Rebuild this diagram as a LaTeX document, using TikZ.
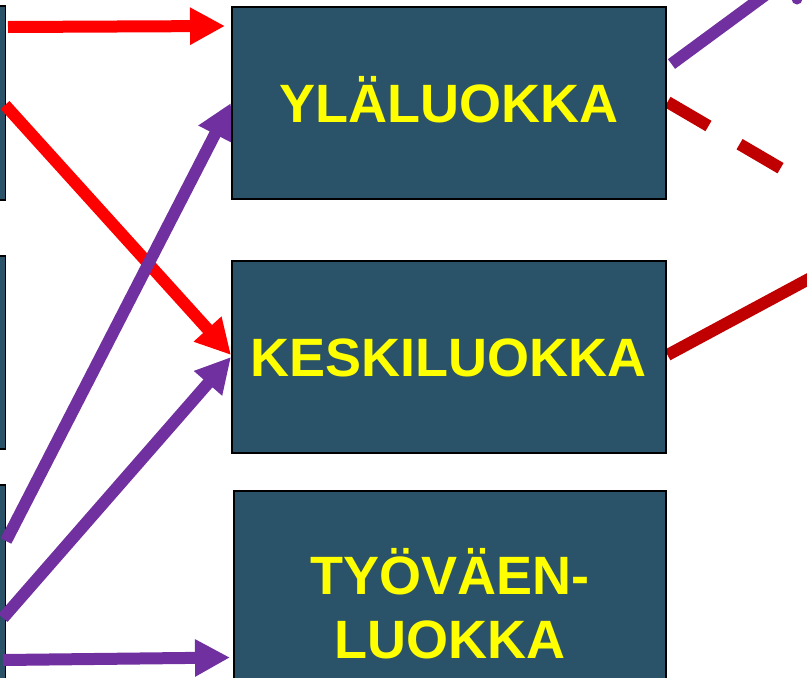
\documentclass[tikz,border=0pt]{standalone}
\usepackage{fontspec}
\setmainfont{Liberation Sans}
\usetikzlibrary{arrows.meta,calc}
\definecolor{boxfill}{RGB}{42,82,104}
\definecolor{lyellow}{RGB}{255,255,0}
\definecolor{pur}{RGB}{112,48,160}
\definecolor{dred}{RGB}{192,0,0}
\pgfdeclarelayer{back}
\pgfdeclarelayer{front}
\pgfsetlayers{back,main,front}
\tikzset{
  cbox/.style={draw=black, line width=1.5pt, fill=boxfill, inner sep=0pt, rectangle},
  lbl/.style={text=lyellow, font=\fontsize{54}{64}\selectfont\bfseries, inner sep=0pt},
  conn/.style={line width=12pt},
  tipped/.style={-{Triangle[length=35pt,width=35pt]}},
}
\begin{document}
\begin{tikzpicture}[x=1pt,y=-1pt]
\useasboundingbox (0,0) rectangle (807,678);
\clip (0,0) rectangle (807,678);
% left boxes (cut by the page edge)
\begin{pgfonlayer}{back}
\node[cbox, anchor=north east, minimum width=80pt, minimum height=194pt] (L1) at (6,5) {};
\node[cbox, anchor=north east, minimum width=80pt, minimum height=193pt] (L2) at (6,255) {};
\node[cbox, anchor=north east, minimum width=80pt, minimum height=240pt] (L3) at (6,484) {};
\end{pgfonlayer}
% middle boxes
\begin{pgfonlayer}{front}
\node[cbox, lbl, text height=38.5pt, text depth=0pt, minimum width=434pt, minimum height=192pt, anchor=north west] (Y) at (231,6) {YLÄLUOKKA};
\node[cbox, lbl, text height=38.5pt, text depth=0pt, minimum width=434pt, minimum height=192pt, anchor=north west] (K) at (231,260) {KESKILUOKKA};
\node[cbox, minimum width=432pt, minimum height=234pt, anchor=north west] (W) at (233,490) {};
\node[lbl, anchor=base] (W1) at ($(W.north)+(0,104)$) {TYÖVÄEN-};
\node[lbl, anchor=base] (W2) at ($(W.north)+(0,168)$) {LUOKKA};
\end{pgfonlayer}
% connector end points
\coordinate (a1s) at ($(L1.north east)+(2,22)$);
\coordinate (a1e) at ($(Y.north west)+(-6,20)$);
\coordinate (a2s) at ($(L1.north east)+(-1,100)$);
\coordinate (a2e) at ($(K.north west)+(0,95)$);
\coordinate (a3s) at ($(L3.north east)+(0,57)$);
\coordinate (a3e) at ($(Y.north west)+(0,97)$);
\coordinate (a4s) at ($(L3.north east)+(-3,134)$);
\coordinate (a4e) at ($(K.north west)+(0,97)$);
\coordinate (a5s) at ($(L3.north east)+(-3,176)$);
\coordinate (a5e) at ($(W.north west)+(-3,167.5)$);
\coordinate (r1s) at ($(Y.north east)+(5,58)$);
\coordinate (r1e) at ($(r1s)+(174,-128)$);
\coordinate (r1dot) at (797,-1);
\coordinate (r2s) at ($(Y.north east)+(1,96)$);
\coordinate (r2e) at ($(r2s)+(205,120)$);
\coordinate (r3s) at ($(K.north east)+(1,95)$);
\coordinate (r3e) at ($(r3s)+(184,-99)$);
% connectors
\draw[conn, red, tipped] (a1s) -- (a1e);
\draw[conn, red, tipped] (a2s) -- (a2e);
\draw[conn, pur, tipped] (a3s) -- (a3e);
\draw[conn, pur, tipped] (a4s) -- (a4e);
\draw[conn, pur, tipped] (a5s) -- (a5e);
\draw[conn, pur] (r1s) -- (r1e);
\fill[pur] (r1dot) circle (5.5pt);
\draw[conn, dred, dash pattern=on 47.5pt off 36pt] (r2s) -- (r2e);
\draw[conn, dred] (r3s) -- (r3e);
\end{tikzpicture}
\end{document}
